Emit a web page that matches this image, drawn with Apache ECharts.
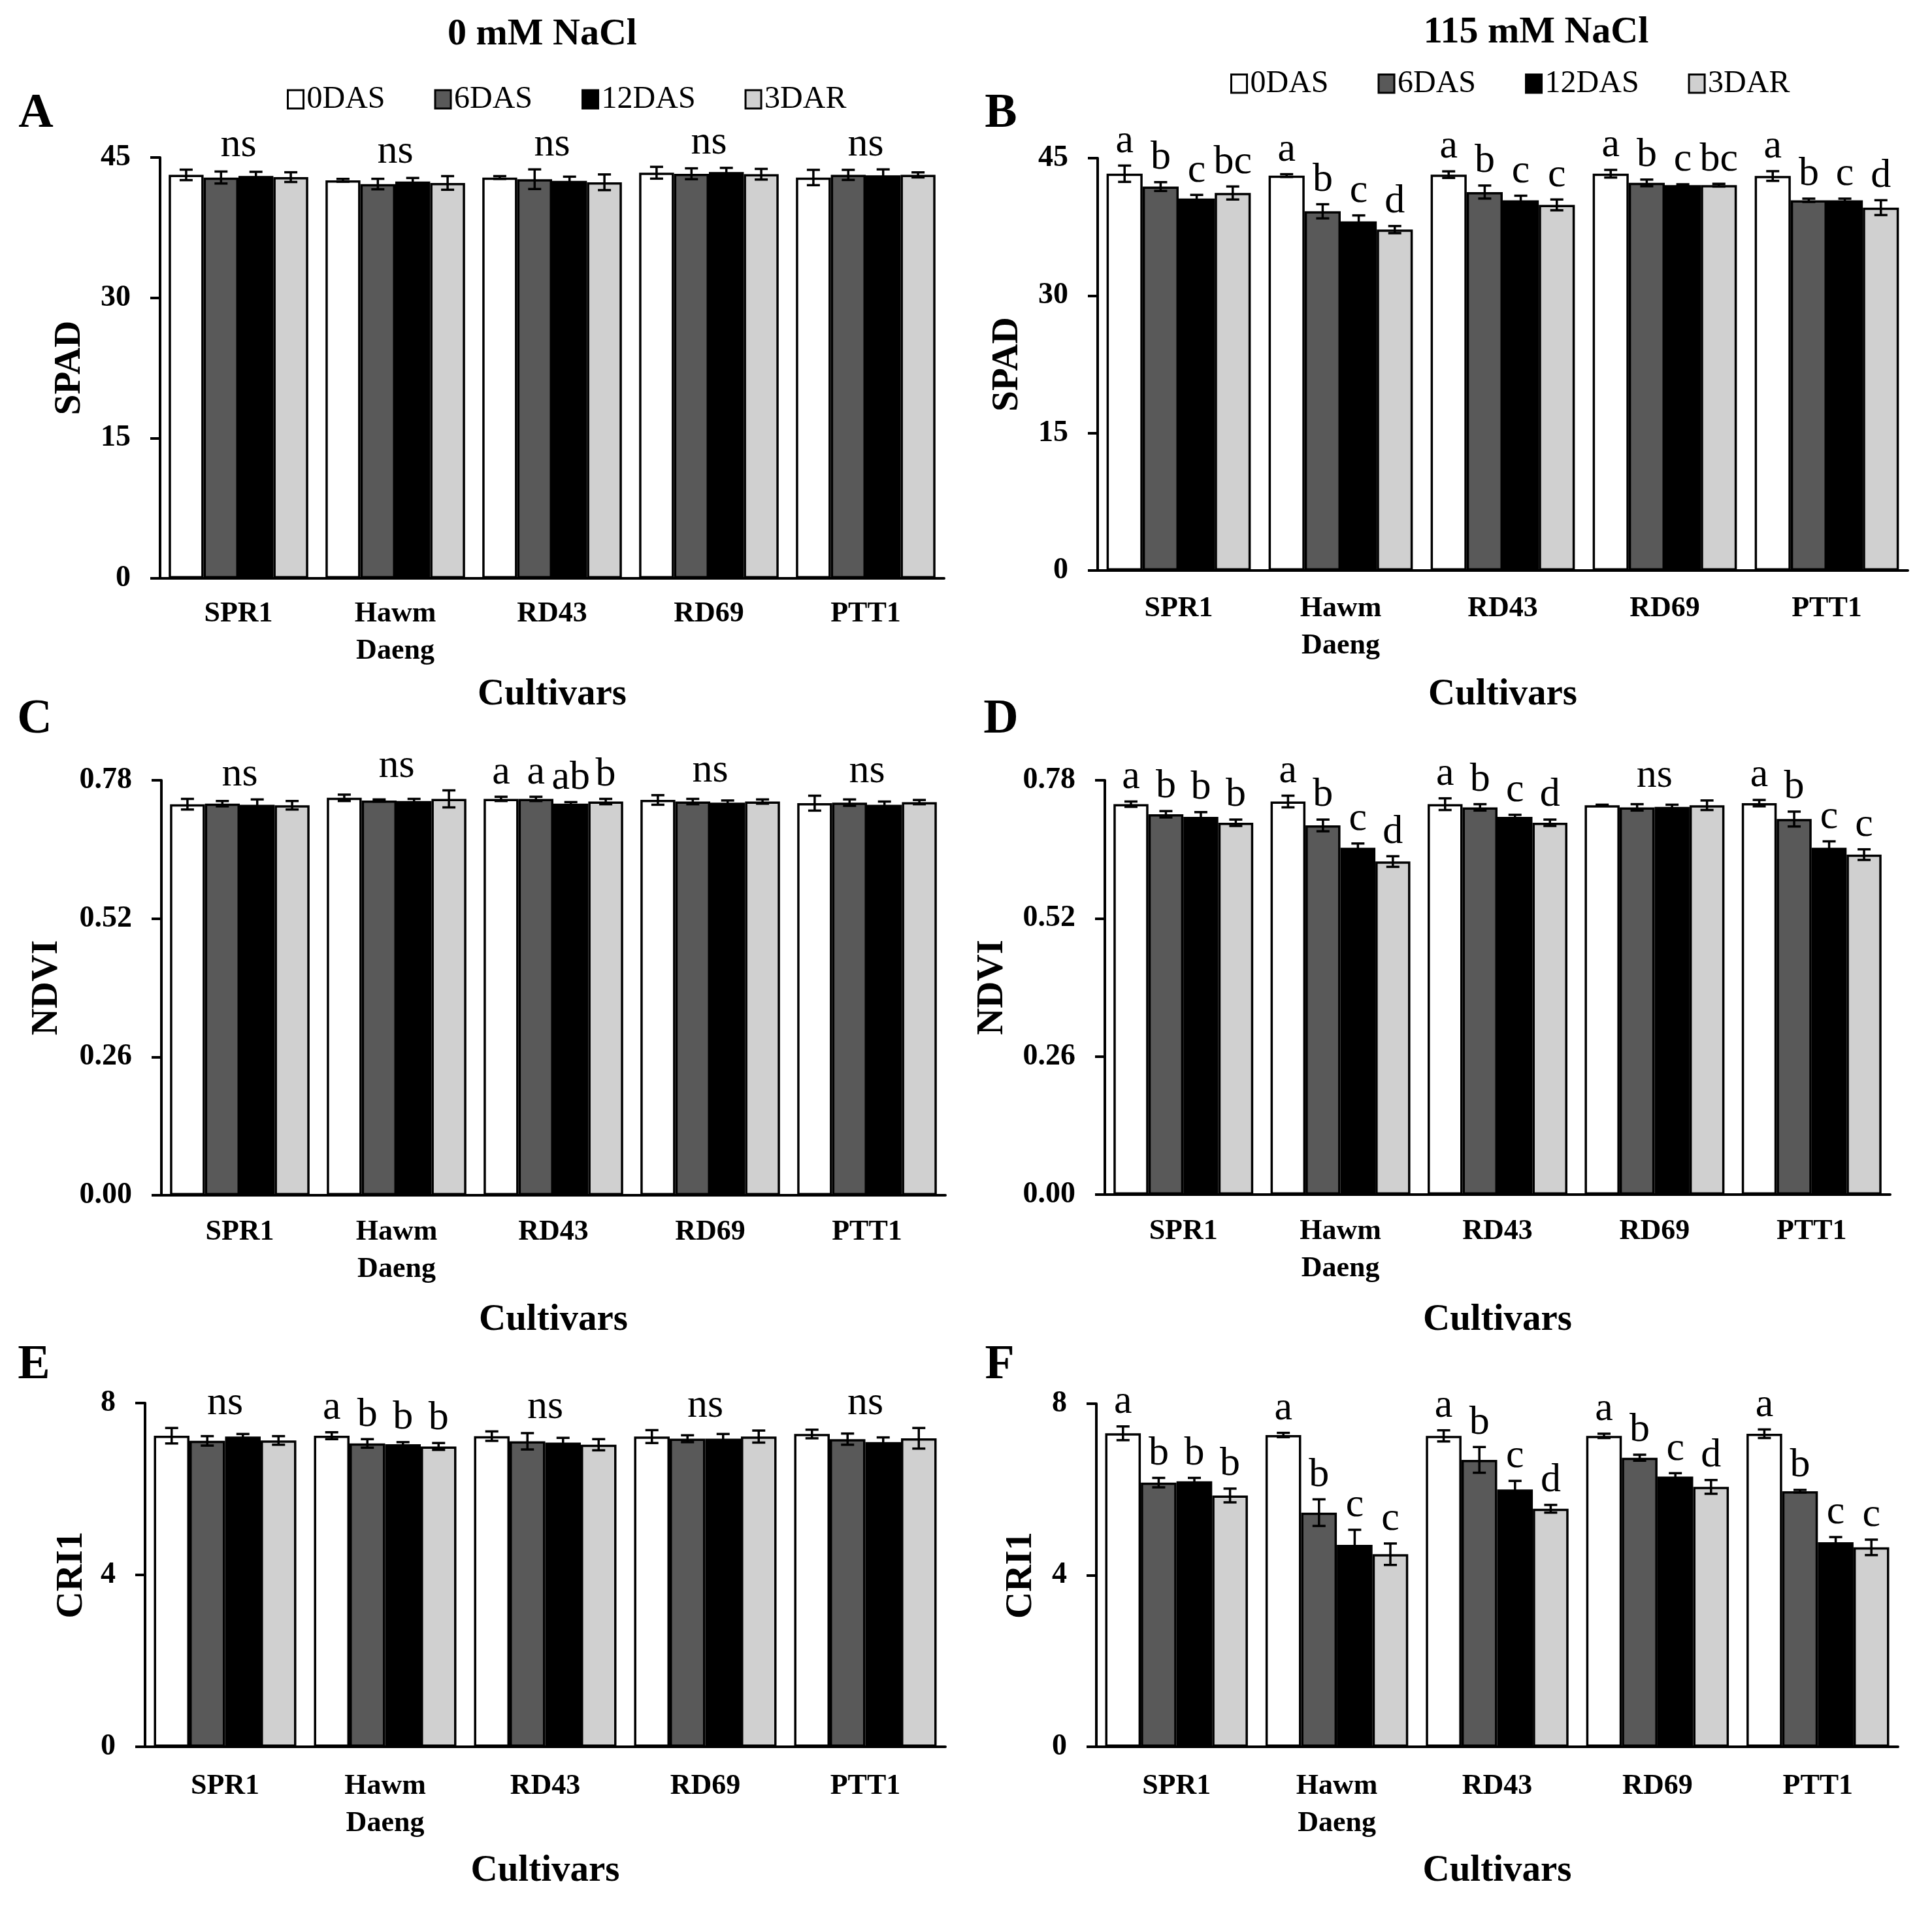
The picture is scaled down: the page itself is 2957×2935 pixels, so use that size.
<!DOCTYPE html>
<html>
<head>
<meta charset="utf-8">
<title>SPAD / NDVI / CRI1</title>
<script src="https://cdn.jsdelivr.net/npm/echarts@6/dist/echarts.min.js"></script>
<style>
  html, body { margin: 0; padding: 0; background: #fff; }
  #chart { width: 2957px; height: 2935px; }
</style>
</head>
<body>
<div id="chart"></div>
<script>
const FONT = 'Liberation Serif';

const cultivars = ['SPR1', 'Hawm\nDaeng', 'RD43', 'RD69', 'PTT1'];
const stages = ['0DAS', '6DAS', '12DAS', '3DAR'];
const stageColors = ['#ffffff', '#595959', '#000000', '#d0d0d0'];

// rows = stages (0DAS, 6DAS, 12DAS, 3DAR), columns = cultivars
// A: SPAD, 0 mM NaCl
const spadCtrlMean = [
  [43.14, 42.56, 42.86, 43.37, 42.86],
  [42.86, 42.16, 42.68, 43.26, 43.14],
  [43.03, 42.44, 42.51, 43.45, 43.10],
  [42.90, 42.28, 42.35, 43.21, 43.14]
];
const spadCtrlErr = [
  [0.56, 0.15, 0.15, 0.63, 0.82],
  [0.64, 0.56, 1.05, 0.58, 0.54],
  [0.44, 0.37, 0.44, 0.44, 0.63],
  [0.52, 0.73, 0.84, 0.57, 0.27]
];
const spadCtrlSig = ['ns', 'ns', 'ns', 'ns', 'ns'];

// B: SPAD, 115 mM NaCl
const spadSaltMean = [
  [43.30, 43.10, 43.20, 43.30, 43.05],
  [41.90, 39.20, 41.30, 42.30, 40.40],
  [40.60, 38.10, 40.40, 42.05, 40.40],
  [41.20, 37.20, 39.90, 42.05, 39.60]
];
const spadSaltErr = [
  [0.89, 0.15, 0.36, 0.42, 0.53],
  [0.48, 0.77, 0.71, 0.36, 0.18],
  [0.39, 0.65, 0.50, 0.10, 0.18],
  [0.71, 0.39, 0.59, 0.15, 0.81]
];
const spadSaltSig = [
  ['a', 'b', 'c', 'bc'],
  ['a', 'b', 'c', 'd'],
  ['a', 'b', 'c', 'c'],
  ['a', 'b', 'c', 'bc'],
  ['a', 'b', 'c', 'd']
];

// C: NDVI, 0 mM NaCl
const ndviCtrlMean = [
  [0.735, 0.747, 0.745, 0.743, 0.737],
  [0.736, 0.742, 0.745, 0.740, 0.738],
  [0.734, 0.741, 0.736, 0.738, 0.734],
  [0.733, 0.745, 0.740, 0.740, 0.739]
];
const ndviCtrlErr = [
  [0.010, 0.006, 0.004, 0.009, 0.014],
  [0.005, 0.002, 0.004, 0.005, 0.006],
  [0.010, 0.004, 0.003, 0.004, 0.006],
  [0.008, 0.016, 0.005, 0.004, 0.004]
];
const ndviCtrlSig = ['ns', 'ns', ['a', 'a', 'ab', 'b'], 'ns', 'ns'];

// D: NDVI, 115 mM NaCl
const ndviSaltMean = [
  [0.735, 0.740, 0.735, 0.733, 0.737],
  [0.716, 0.695, 0.729, 0.729, 0.707],
  [0.711, 0.653, 0.711, 0.730, 0.653],
  [0.700, 0.627, 0.700, 0.733, 0.640]
];
const ndviSaltErr = [
  [0.005, 0.011, 0.011, 0.001, 0.006],
  [0.006, 0.011, 0.006, 0.006, 0.014],
  [0.009, 0.008, 0.004, 0.004, 0.012],
  [0.006, 0.010, 0.006, 0.009, 0.010]
];
const ndviSaltSig = [
  ['a', 'b', 'b', 'b'],
  ['a', 'b', 'c', 'd'],
  ['a', 'b', 'c', 'd'],
  'ns',
  ['a', 'b', 'c', 'c']
];

// E: CRI1, 0 mM NaCl
const criCtrlMean = [
  [7.24, 7.24, 7.23, 7.22, 7.28],
  [7.12, 7.06, 7.11, 7.17, 7.16],
  [7.22, 7.04, 7.08, 7.17, 7.09],
  [7.13, 6.99, 7.03, 7.22, 7.18]
];
const criCtrlErr = [
  [0.18, 0.08, 0.11, 0.15, 0.10],
  [0.11, 0.10, 0.19, 0.08, 0.13],
  [0.06, 0.05, 0.11, 0.11, 0.11],
  [0.10, 0.08, 0.13, 0.14, 0.24]
];
const criCtrlSig = ['ns', ['a', 'b', 'b', 'b'], 'ns', 'ns', 'ns'];

// F: CRI1, 115 mM NaCl
const criSaltMean = [
  [7.31, 7.27, 7.25, 7.25, 7.30],
  [6.16, 5.46, 6.69, 6.74, 5.96],
  [6.19, 4.71, 6.00, 6.30, 4.77],
  [5.86, 4.49, 5.55, 6.06, 4.65]
];
const criSaltErr = [
  [0.16, 0.05, 0.13, 0.05, 0.10],
  [0.11, 0.31, 0.30, 0.07, 0.03],
  [0.08, 0.35, 0.20, 0.08, 0.12],
  [0.16, 0.25, 0.09, 0.16, 0.18]
];
const criSaltSig = [
  ['a', 'b', 'b', 'b'],
  ['a', 'b', 'c', 'c'],
  ['a', 'b', 'c', 'd'],
  ['a', 'b', 'c', 'd'],
  ['a', 'b', 'c', 'c']
];

// panel layout (pixels)
const panels = [
  { tag: 'A', left: 245, top: 241, width: 1200, height: 644, max: 45, step: 15, dec: 0, yName: 'SPAD',
    nameX: 107, tagX: 55, tagY: 175, catMargin: 26, cultY: 1063,
    mean: spadCtrlMean, err: spadCtrlErr, sig: spadCtrlSig },
  { tag: 'B', left: 1680, top: 242, width: 1240, height: 631, max: 45, step: 15, dec: 0, yName: 'SPAD',
    nameX: 1542, tagX: 1532, tagY: 175, catMargin: 30, cultY: 1063,
    mean: spadSaltMean, err: spadSaltErr, sig: spadSaltSig },
  { tag: 'C', left: 247, top: 1194, width: 1200, height: 635, max: 0.78, step: 0.26, dec: 2, yName: 'NDVI',
    nameX: 72, tagX: 53, tagY: 1102, catMargin: 28, cultY: 2020,
    mean: ndviCtrlMean, err: ndviCtrlErr, sig: ndviCtrlSig },
  { tag: 'D', left: 1691, top: 1194, width: 1202, height: 634, max: 0.78, step: 0.26, dec: 2, yName: 'NDVI',
    nameX: 1519, tagX: 1532, tagY: 1102, catMargin: 28, cultY: 2020,
    mean: ndviSaltMean, err: ndviSaltErr, sig: ndviSaltSig },
  { tag: 'E', left: 222, top: 2147, width: 1225, height: 526, max: 8, step: 4, dec: 0, yName: 'CRI1',
    nameX: 110, tagX: 52, tagY: 2090, catMargin: 32, cultY: 2863,
    mean: criCtrlMean, err: criCtrlErr, sig: criCtrlSig },
  { tag: 'F', left: 1678, top: 2148, width: 1227, height: 525, max: 8, step: 4, dec: 0, yName: 'CRI1',
    nameX: 1563, tagX: 1530, tagY: 2090, catMargin: 32, cultY: 2863,
    mean: criSaltMean, err: criSaltErr, sig: criSaltSig }
];

const GAP = 0.11;       // bar category gap
const CAP = 10;         // half width of error bar cap
const LETTER_GAP = 6;   // space between error bar top and letter

const chart = echarts.init(document.getElementById('chart'), null, { renderer: 'canvas', devicePixelRatio: 1 });

function letterText(x, y, txt) {
  return {
    type: 'text',
    x: x, y: y,
    style: {
      text: txt, fill: '#000',
      font: 'normal 62px "' + FONT + '"',
      textAlign: 'center', textVerticalAlign: 'bottom'
    }
  };
}

// error bars + per-bar letters
function errorRender(p) {
  return function (params, api) {
    const ci = api.value(0), si = api.value(1), m = api.value(2), e = api.value(3);
    const band = api.size([1, 0])[0];
    const bw = band * (1 - GAP) / 4;
    const x = api.coord([ci, 0])[0] + (si - 1.5) * bw;
    const yHi = api.coord([ci, m + e])[1];
    const yLo = api.coord([ci, m - e])[1];
    const ls = { stroke: '#000', lineWidth: 3.5 };
    const children = [
      { type: 'line', shape: { x1: x, y1: yHi, x2: x, y2: yLo }, style: ls },
      { type: 'line', shape: { x1: x - CAP, y1: yHi, x2: x + CAP, y2: yHi }, style: ls },
      { type: 'line', shape: { x1: x - CAP, y1: yLo, x2: x + CAP, y2: yLo }, style: ls }
    ];
    const s = p.sig[ci];
    if (Array.isArray(s)) {
      children.push(letterText(x, yHi - LETTER_GAP, s[si]));
    }
    return { type: 'group', children: children };
  };
}

// group-level "ns"
function nsRender(params, api) {
  const ci = api.value(0), top = api.value(1);
  const pt = api.coord([ci, top]);
  return letterText(pt[0], pt[1] - LETTER_GAP, 'ns');
}

const grids = [], xAxes = [], yAxes = [], series = [], graphics = [];

panels.forEach(function (p, i) {
  grids.push({ left: p.left, top: p.top, width: p.width, height: p.height, containLabel: false, outerBoundsMode: 'none' });

  xAxes.push({
    type: 'category', gridIndex: i, data: cultivars,
    axisLine: { show: true, lineStyle: { color: '#000', width: 4 } },
    axisTick: { show: false },
    splitLine: { show: false },
    axisLabel: {
      interval: 0, margin: p.catMargin, color: '#000',
      fontFamily: FONT, fontWeight: 'bold', fontSize: 44, lineHeight: 57
    }
  });

  yAxes.push({
    type: 'value', gridIndex: i, min: 0, max: p.max, interval: p.step,
    axisLine: { show: true, lineStyle: { color: '#000', width: 4 } },
    axisTick: { show: true, inside: false, length: 15, lineStyle: { color: '#000', width: 4 } },
    splitLine: { show: false },
    axisLabel: {
      margin: 45, color: '#000', fontFamily: FONT, fontWeight: 'bold', fontSize: 46,
      formatter: function (v) { return Number(v).toFixed(p.dec); }
    }
  });

  stages.forEach(function (st, si) {
    series.push({
      name: st, type: 'bar', xAxisIndex: i, yAxisIndex: i,
      data: p.mean[si],
      barGap: '0%', barCategoryGap: (GAP * 100) + '%',
      itemStyle: { color: stageColors[si], borderColor: '#000', borderWidth: 3.5 },
      emphasis: { disabled: true }, silent: true, z: 2
    });
  });

  const errData = [];
  cultivars.forEach(function (c, ci) {
    stages.forEach(function (st, si) {
      errData.push([ci, si, p.mean[si][ci], p.err[si][ci]]);
    });
  });
  series.push({
    type: 'custom', xAxisIndex: i, yAxisIndex: i,
    renderItem: errorRender(p), data: errData,
    encode: { x: 0, y: 2 }, silent: true, z: 5
  });

  const nsData = [];
  p.sig.forEach(function (s, ci) {
    if (s === 'ns') {
      let top = 0;
      stages.forEach(function (st, si) { top = Math.max(top, p.mean[si][ci] + p.err[si][ci]); });
      nsData.push([ci, top]);
    }
  });
  if (nsData.length) {
    series.push({
      type: 'custom', xAxisIndex: i, yAxisIndex: i,
      renderItem: nsRender, data: nsData,
      encode: { x: 0, y: 1 }, silent: true, z: 5
    });
  }

  // panel tag, y axis name, x axis name
  graphics.push({
    type: 'text', x: p.tagX, y: p.tagY,
    style: { text: p.tag, fill: '#000', font: 'bold 74px "' + FONT + '"', textAlign: 'center', textVerticalAlign: 'middle' }
  });
  graphics.push({
    type: 'text', x: p.nameX, y: p.top + p.height / 2, rotation: Math.PI / 2,
    style: { text: p.yName, fill: '#000', font: 'bold 57px "' + FONT + '"', textAlign: 'center', textVerticalAlign: 'middle' }
  });
  graphics.push({
    type: 'text', x: p.left + p.width / 2, y: p.cultY,
    style: { text: 'Cultivars', fill: '#000', font: 'bold 57px "' + FONT + '"', textAlign: 'center', textVerticalAlign: 'middle' }
  });
});

// column titles
graphics.push({
  type: 'text', x: 830, y: 53,
  style: { text: '0 mM NaCl', fill: '#000', font: 'bold 58px "' + FONT + '"', textAlign: 'center', textVerticalAlign: 'middle' }
});
graphics.push({
  type: 'text', x: 2351, y: 50,
  style: { text: '115 mM NaCl', fill: '#000', font: 'bold 58px "' + FONT + '"', textAlign: 'center', textVerticalAlign: 'middle' }
});

function legendAt(left, top) {
  return {
    data: stages, left: left, top: top, orient: 'horizontal',
    icon: 'rect', itemWidth: 24, itemHeight: 28, itemGap: 75,
    selectedMode: false,
    itemStyle: { borderColor: '#000', borderWidth: 3 },
    textStyle: { fontFamily: FONT, fontSize: 48, lineHeight: 48, color: '#000' }
  };
}

chart.setOption({
  backgroundColor: '#ffffff',
  animation: false,
  textStyle: { fontFamily: FONT },
  legend: [legendAt(434, 123), legendAt(1878, 99)],
  grid: grids,
  xAxis: xAxes,
  yAxis: yAxes,
  series: series,
  graphic: graphics
});
</script>
</body>
</html>
